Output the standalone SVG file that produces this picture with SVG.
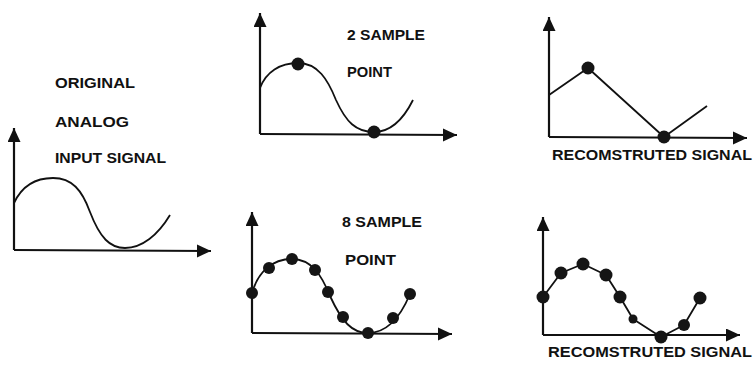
<svg xmlns="http://www.w3.org/2000/svg" width="754" height="369" viewBox="0 0 754 369">
<style>
.ax{stroke:#111;stroke-width:2.2;fill:none;marker-end:url(#ah)}
.sig{stroke:#111;stroke-width:1.8;fill:none;stroke-linejoin:round}
.dot{fill:#151515}
.lbl{font-family:"Liberation Sans",Arial,sans-serif;font-weight:bold;font-size:15px;fill:#111}
</style>
<defs>
<marker id="ah" markerUnits="userSpaceOnUse" markerWidth="16" markerHeight="14" refX="14" refY="6.5" orient="auto">
<path d="M0,0 L14,6.5 L0,13 z" fill="#111"/>
</marker>
</defs>
<rect width="754" height="369" fill="#fff"/>
<g id="original">
<path class="ax" d="M14,250 L14,128"/>
<path class="ax" d="M14,250 L211,251"/>
<path class="sig" d="M14,203 C22,186 36,178 53,178 C72,178 82,190 90,212 C100,238 110,248 125,248 C142,248 158,235 170,215"/>
<text class="lbl" x="55" y="88" textLength="80" lengthAdjust="spacingAndGlyphs">ORIGINAL</text>
<text class="lbl" x="55" y="127" textLength="74" lengthAdjust="spacingAndGlyphs">ANALOG</text>
<text class="lbl" x="55" y="163" textLength="111" lengthAdjust="spacingAndGlyphs">INPUT SIGNAL</text>
</g>
<g id="sample2">
<path class="ax" d="M260,134 L260,13"/>
<path class="ax" d="M260,134 L457,135"/>
<path class="sig" d="M260,88 C266,72 280,63 298,63 C318,63 328,80 336,100 C346,122 356,132 374,132 C392,132 404,118 413,100"/>
<circle class="dot" cx="298" cy="64" r="6.5"/>
<circle class="dot" cx="374" cy="132" r="6.5"/>
<text class="lbl" x="347" y="40" textLength="78" lengthAdjust="spacingAndGlyphs">2 SAMPLE</text>
<text class="lbl" x="347" y="77" textLength="45" lengthAdjust="spacingAndGlyphs">POINT</text>
</g>
<g id="recon2">
<path class="ax" d="M549,137 L549,17"/>
<path class="ax" d="M549,137 L747,138"/>
<polyline class="sig" points="549,95 588,68 664,137 707,106"/>
<circle class="dot" cx="588" cy="68" r="6.5"/>
<circle class="dot" cx="664" cy="137" r="6.5"/>
<text class="lbl" x="552" y="160" textLength="200" lengthAdjust="spacingAndGlyphs">RECOMSTRUTED SIGNAL</text>
</g>
<g id="sample8">
<path class="ax" d="M252,333 L252,212"/>
<path class="ax" d="M252,333 L452,334"/>
<path class="sig" d="M252,293 C258,272 272,259 292,259 C312,259 322,276 330,296 C342,322 352,333 368,333 C386,333 400,318 410,294"/>
<circle class="dot" cx="252" cy="293" r="6"/>
<circle class="dot" cx="269" cy="268" r="6"/>
<circle class="dot" cx="292" cy="259" r="6"/>
<circle class="dot" cx="315" cy="270" r="6"/>
<circle class="dot" cx="328" cy="292" r="6"/>
<circle class="dot" cx="343" cy="317" r="6"/>
<circle class="dot" cx="368" cy="333" r="6"/>
<circle class="dot" cx="393" cy="318" r="6"/>
<circle class="dot" cx="410" cy="294" r="6"/>
<text class="lbl" x="342" y="227" textLength="80" lengthAdjust="spacingAndGlyphs">8 SAMPLE</text>
<text class="lbl" x="345" y="265" textLength="51" lengthAdjust="spacingAndGlyphs">POINT</text>
</g>
<g id="recon8">
<path class="ax" d="M543,335 L543,217"/>
<path class="ax" d="M543,335 L740,335"/>
<polyline class="sig" points="543,297 561,273 583,264 606,275 620,297 633,319 661,337 684,325 700,298"/>
<circle class="dot" cx="543" cy="297" r="6.5"/>
<circle class="dot" cx="561" cy="273" r="6.5"/>
<circle class="dot" cx="583" cy="264" r="6.5"/>
<circle class="dot" cx="606" cy="275" r="6.5"/>
<circle class="dot" cx="620" cy="297" r="6.5"/>
<circle class="dot" cx="633" cy="319" r="4.5"/>
<circle class="dot" cx="661" cy="337" r="6.5"/>
<circle class="dot" cx="684" cy="325" r="6"/>
<circle class="dot" cx="700" cy="298" r="6.5"/>
<text class="lbl" x="548" y="357" textLength="204" lengthAdjust="spacingAndGlyphs">RECOMSTRUTED SIGNAL</text>
</g>
</svg>
